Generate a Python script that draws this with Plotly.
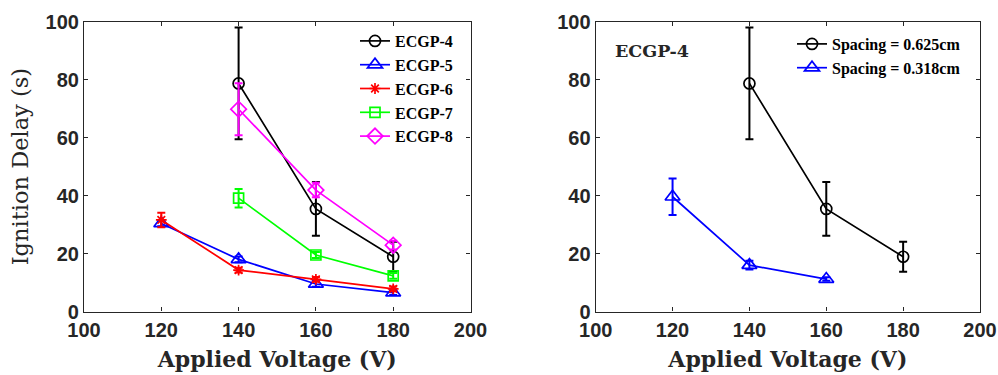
import plotly.graph_objects as go

voltage = [120, 140, 160, 180]

# Left panel: ignition delay (s) per ECGP sample; None = no data
ecgp4 = [None, 78.7, 35.4, 18.9]
ecgp4_err = [None, 19.3, 9.3, 5.2]
ecgp5 = [30.4, 18.0, 9.5, 6.5]
ecgp5_err = [1.0, 1.0, 1.0, 0.8]
ecgp6 = [31.6, 14.3, 11.1, 7.8]
ecgp6_err = [2.5, 0.8, 0.8, 0.8]
ecgp7 = [None, 39.1, 19.5, 12.3]
ecgp7_err = [None, 3.2, 1.0, 1.0]
ecgp8 = [None, 69.8, 41.9, 22.9]
ecgp8_err = [None, 9.0, 2.5, 1.5]

# Right panel: ECGP-4 at two electrode spacings
spacing_0625 = [None, 78.7, 35.4, 18.9]
spacing_0625_err = [None, 19.3, 9.3, 5.2]
spacing_0318 = [39.6, 16.0, 11.2, None]
spacing_0318_err = [6.3, 1.5, 0.6, None]

x_ticks = [100, 120, 140, 160, 180, 200]
y_ticks = [0, 20, 40, 60, 80, 100]

fig = go.Figure()

def add(name, y, err, color, symbol, size, xa, ya, legend):
    fig.add_trace(go.Scatter(
        x=voltage, y=y, name=name, mode="lines+markers",
        line=dict(color=color, width=1.7),
        marker=dict(symbol=symbol, size=size, color=color,
                    line=dict(color=color, width=1.7)),
        error_y=dict(type="data", array=err, visible=True, color=color,
                     thickness=2, width=4),
        xaxis=xa, yaxis=ya, legend=legend, connectgaps=True,
    ))

add("ECGP-4", ecgp4, ecgp4_err, "#000000", "circle-open", 11, "x", "y", "legend")
add("ECGP-5", ecgp5, ecgp5_err, "#0000FF", "triangle-up-open", 13, "x", "y", "legend")
add("ECGP-6", ecgp6, ecgp6_err, "#FF0000", "asterisk-open", 9, "x", "y", "legend")
add("ECGP-7", ecgp7, ecgp7_err, "#00FF00", "square-open", 10, "x", "y", "legend")
add("ECGP-8", ecgp8, ecgp8_err, "#FF00FF", "diamond-open", 12, "x", "y", "legend")

add("Spacing = 0.625cm", spacing_0625, spacing_0625_err, "#000000", "circle-open", 11, "x2", "y2", "legend2")
add("Spacing = 0.318cm", spacing_0318, spacing_0318_err, "#0000FF", "triangle-up-open", 13, "x2", "y2", "legend2")

axcol = "#262626"
tickfont = dict(family="Liberation Sans, Arial, sans-serif", size=20, color=axcol, weight="bold")
xtitlefont = dict(family="DejaVu Serif, serif", size=22, color=axcol, weight="bold")
ytitlefont = dict(family="DejaVu Serif, serif", size=22.5, color=axcol, weight="normal")

def xaxis(domain, anchor):
    return dict(domain=domain, anchor=anchor, range=[100, 200], tickvals=x_ticks,
                ticks="inside", ticklen=4, tickcolor=axcol, showline=True, linecolor=axcol,
                linewidth=1.2, mirror="ticks", showgrid=False, zeroline=False,
                tickfont=tickfont, automargin=False,
                title=dict(text="Applied Voltage (V)", font=xtitlefont, standoff=12))

def yaxis(domain, anchor, title):
    d = dict(domain=domain, anchor=anchor, range=[0, 100], tickvals=y_ticks,
             ticks="inside", ticklen=4, tickcolor=axcol, showline=True, linecolor=axcol,
             linewidth=1.2, mirror="ticks", showgrid=False, zeroline=False,
             tickfont=tickfont, automargin=False)
    if title:
        d["title"] = dict(text=title, font=ytitlefont, standoff=10)
    return d

ydom = [1 - 311.5 / 375, 1 - 21.7 / 375]
legfont = dict(family="Liberation Serif, Times New Roman, serif", size=16, color="#000000", weight="bold")

fig.update_layout(
    width=998, height=375,
    margin=dict(l=0, r=0, t=0, b=0),
    paper_bgcolor="white", plot_bgcolor="white",
    xaxis=xaxis([84 / 998, 470.5 / 998], "y"),
    yaxis=yaxis(ydom, "x", "Ignition Delay (s)"),
    xaxis2=xaxis([595.7 / 998, 980 / 998], "y2"),
    yaxis2=yaxis(ydom, "x2", None),
    legend=dict(x=355 / 998, y=1 - 24 / 375, xanchor="left", yanchor="top",
                font=legfont, bgcolor="rgba(0,0,0,0)", itemwidth=30),
    legend2=dict(x=792 / 998, y=1 - 27 / 375, xanchor="left", yanchor="top",
                 font=legfont, bgcolor="rgba(0,0,0,0)", itemwidth=30),
    annotations=[dict(text="ECGP-4", xref="x2", yref="y2", x=104.5, y=90,
                      xanchor="left", yanchor="middle", showarrow=False,
                      font=dict(family="DejaVu Serif, serif",
                                size=17.5, color=axcol, weight="bold"))],
)

fig.write_html("out.html")
